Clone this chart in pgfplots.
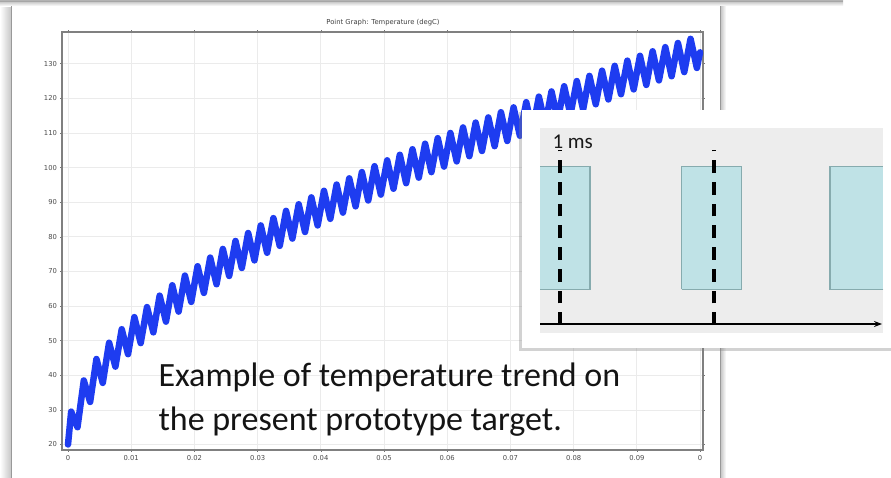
\documentclass[border=0pt]{standalone}
\usepackage{pgfplots}
\pgfplotsset{compat=1.18}
\usepackage{fontspec}
\setmainfont{DejaVu Sans}
\newfontfamily\calibri{Carlito}
\usetikzlibrary{arrows.meta,shadows}
\definecolor{curveblue}{RGB}{30,60,240}
\definecolor{panelgray}{RGB}{237,237,237}
\definecolor{rectfill}{RGB}{191,226,230}
\definecolor{rectedge}{RGB}{134,171,174}
\pgfplotstableread{
t T
0 20
0.0005 29.5
0.0015 25.0
0.0025 38.5
0.0035 32.3
0.0045 44.7
0.0055 37.8
0.0065 49.4
0.0075 42.5
0.0085 53.3
0.0095 46.1
0.0105 56.8
0.0115 49.3
0.0125 59.7
0.0135 52.4
0.0145 63.0
0.0155 55.5
0.0165 66.0
0.0175 58.4
0.0185 68.8
0.0195 61.2
0.0205 71.5
0.0215 63.8
0.0225 74.0
0.0235 66.3
0.0245 76.5
0.0255 68.7
0.0265 78.8
0.0275 71.0
0.0285 81.1
0.0295 73.2
0.0305 83.3
0.0315 75.4
0.0325 85.4
0.0335 77.4
0.0345 87.5
0.0355 79.5
0.0365 89.4
0.0375 81.4
0.0385 91.4
0.0395 83.3
0.0405 93.3
0.0415 85.2
0.0425 95.1
0.0435 87.0
0.0445 96.9
0.0455 88.8
0.0465 98.7
0.0475 90.5
0.0485 100.4
0.0495 92.2
0.0505 102.1
0.0515 93.9
0.0525 103.7
0.0535 95.5
0.0545 105.3
0.0555 97.1
0.0565 106.9
0.0575 98.7
0.0585 108.5
0.0595 100.3
0.0605 110.0
0.0615 101.8
0.0625 111.6
0.0635 103.3
0.0645 113.0
0.0655 104.8
0.0665 114.5
0.0675 106.2
0.0685 116.0
0.0695 107.7
0.0705 117.4
0.0715 109.2
0.0725 118.9
0.0735 110.7
0.0745 120.5
0.0755 112.3
0.0765 122.0
0.0775 113.8
0.0785 123.5
0.0795 115.3
0.0805 125.0
0.0815 116.8
0.0825 126.5
0.0835 118.3
0.0845 128.0
0.0855 119.7
0.0865 129.4
0.0875 121.2
0.0885 130.9
0.0895 122.6
0.0905 132.3
0.0915 123.9
0.0925 133.6
0.0935 125.2
0.0945 134.8
0.0955 126.4
0.0965 136.0
0.0975 127.6
0.0985 137.2
0.0995 128.8
0.1 133.3
}\tempdata
\begin{document}
\begin{tikzpicture}
\path[use as bounding box] (0pt,0pt) rectangle (891pt,-478pt);
% slide decorations
\fill[white] (0pt,0pt) rectangle (891pt,-478pt);
\shade[left color=white, right color=black!22] (0pt,-8pt) rectangle (11pt,-478pt);
\fill[white] (11.5pt,-5pt) rectangle (720pt,-478pt);
\draw[black!40, line width=1pt] (11.5pt,-5pt) -- (11.5pt,-478pt);
\shade[left color=black!25, right color=white] (720pt,-5pt) rectangle (726pt,-478pt);
\draw[black!40, line width=1pt] (720pt,-5pt) -- (720pt,-478pt);
\shade[top color=black!30, bottom color=white] (0pt,0pt) rectangle (843pt,-6pt);
\draw[black!35, line width=1pt] (0pt,-2pt) -- (843pt,-2pt);
\node[font=\fontsize{6.8}{8}\selectfont, text=black!75] at (383pt,-23pt) {Point Graph: Temperature (degC)};
\begin{axis}[
  at={(62pt,-450pt)}, anchor=south west, scale only axis,
  width=641pt, height=418pt,
  xmin=-0.00095, xmax=0.10047, ymin=18.41, ymax=139.18,
  xtick={0,0.01,0.02,0.03,0.04,0.05,0.06,0.07,0.08,0.09,0.1},
  xticklabels={0,0.01,0.02,0.03,0.04,0.05,0.06,0.07,0.08,0.09,0},
  scaled x ticks=false,
  ytick={20,30,40,50,60,70,80,90,100,110,120,130},
  /pgf/number format/assume math mode=true,
  grid=major, grid style={draw=black!8, line width=0.7pt},
  axis line style={draw=black!50, line width=1.1pt},
  tick style={draw=black!55, line width=0.6pt}, major tick length=3pt,
  tick align=center,
  tick label style={font=\fontsize{6.8}{8}\selectfont, text=black!70},
]
\addplot[color=curveblue, line width=6.5pt, line join=round, line cap=round] table[x=t, y=T] {\tempdata};
\end{axis}
\node[anchor=base west, font=\calibri\fontsize{34}{40}\selectfont, text=black!92] at (155pt,-386.7pt) {Example of temperature trend on};
\node[anchor=base west, font=\calibri\fontsize{34}{40}\selectfont, text=black!92] at (155pt,-430pt) {the present prototype target.};
% inset frame
\fill[white, drop shadow={shadow xshift=-2.5pt, shadow yshift=-2.5pt, opacity=0.35}] (521.7pt,-110pt) rectangle (900pt,-348pt);
\fill[panelgray] (540pt,-128.3pt) rectangle (883.3pt,-333.3pt);
\begin{axis}[
  at={(540pt,-333.3pt)}, anchor=south west, scale only axis,
  width=343.3pt, height=205pt,
  xmin=0, xmax=343.3, ymin=0, ymax=205,
  hide axis, clip=false,
]
\addplot[fill=rectfill, draw=none] coordinates {(0,44) (50,44) (50,166.6) (0,166.6)};
\addplot[draw=rectedge, line width=1.2pt] coordinates {(0,44) (50,44) (50,166.6) (0,166.6)};
\addplot[fill=rectfill, draw=rectedge, line width=1.2pt] coordinates {(141.7,44) (201.7,44) (201.7,166.6) (141.7,166.6) (141.7,44)};
\addplot[fill=rectfill, draw=none] coordinates {(290,44) (343.3,44) (343.3,166.6) (290,166.6)};
\addplot[draw=rectedge, line width=1.2pt] coordinates {(343.3,44) (290,44) (290,166.6) (343.3,166.6)};
\addplot[black, line width=3.4pt, dash pattern=on 12.7pt off 9pt] coordinates {(20,8.3) (20,183)};
\addplot[black, line width=3.4pt, dash pattern=on 12.7pt off 9pt] coordinates {(174,8.3) (174,183)};
\addplot[black, line width=1.3pt, -{Stealth[length=8pt,width=6pt]}] coordinates {(0,9.3) (342,9.3)};
\end{axis}
\node[anchor=base west, font=\calibri\fontsize{21}{24}\selectfont, text=black!90] at (549pt,-148.3pt) {1 ms};
\end{tikzpicture}
\end{document}
